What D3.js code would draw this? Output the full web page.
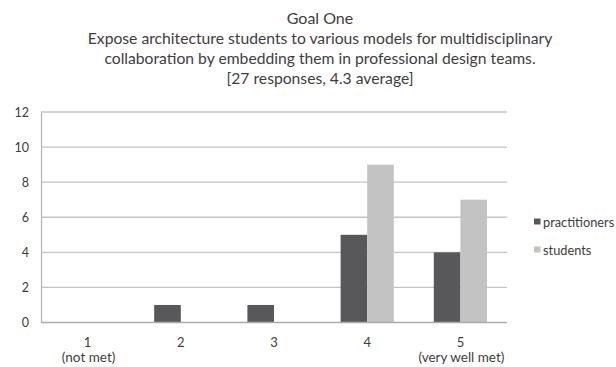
<!DOCTYPE html>
<html>
<head>
<meta charset="utf-8">
<script src="https://cdn.jsdelivr.net/npm/d3@7"></script>
<style>
  body { margin: 0; background: #fff; }
  svg { display: block; }
  text { font-family: Lato, "Open Sans", sans-serif; fill: #3d3d3d; }
</style>
</head>
<body>
<svg id="chart" width="616" height="367"></svg>
<script>
const titleLines = [
  "Goal One",
  "Expose architecture students to various models for multidisciplinary",
  "collaboration by embedding them in professional design teams.",
  "[27 responses, 4.3 average]"
];
const categories = ["1", "2", "3", "4", "5"];
const categorySubLabels = ["(not met)", "", "", "", "(very well met)"];
const seriesNames = ["practitioners", "students"];
const practitioners = [0, 1, 1, 5, 4];
const students = [0, 0, 0, 9, 7];
const yTicks = [0, 2, 4, 6, 8, 10, 12];

const seriesValues = [practitioners, students];
const colors = ["#58585a", "#c3c3c3"];

const svg = d3.select("#chart");
const plotLeft = 41, plotRight = 507, plotTop = 112, plotBottom = 322.5;

// Title
const tBase = [24, 44, 64, 84];
titleLines.forEach((t, i) => {
  svg.append("text")
    .attr("x", 320).attr("y", tBase[i])
    .attr("text-anchor", "middle")
    .style("font-size", i === 0 ? "16px" : "15.7px")
    .text(t);
});

const y = d3.scaleLinear().domain([0, 12]).range([plotBottom, plotTop]);
const x0 = d3.scaleBand().domain(categories).range([plotLeft, plotRight]).padding(0);
const x1 = d3.scaleBand().domain(seriesNames).range([20, x0.bandwidth() - 20]).padding(0);

// Gridlines
svg.append("g").selectAll("line").data(yTicks.filter(d => d > 0)).join("line")
  .attr("x1", plotLeft).attr("x2", plotRight)
  .attr("y1", d => y(d)).attr("y2", d => y(d))
  .attr("stroke", "#c4c4c4").attr("stroke-width", 1.3);

// Y axis
const yAxis = svg.append("g").attr("transform", `translate(${plotLeft},0)`)
  .call(d3.axisLeft(y).tickValues(yTicks).tickSize(0).tickPadding(12));
yAxis.select(".domain").attr("stroke", "#b8b8b8").attr("stroke-width", 1.3);
yAxis.selectAll("text").style("font-size", "12.5px").attr("fill", "#3d3d3d");

// Bars
const groups = svg.append("g").selectAll("g").data(categories).join("g")
  .attr("transform", d => `translate(${x0(d)},0)`);
groups.selectAll("rect")
  .data((d, i) => seriesNames.map((s, j) => ({ s, v: seriesValues[j][i], j })))
  .join("rect")
  .attr("x", d => x1(d.s))
  .attr("width", x1.bandwidth())
  .attr("y", d => y(d.v))
  .attr("height", d => y(0) - y(d.v))
  .attr("fill", d => colors[d.j]);

// X axis baseline
svg.append("line").attr("x1", plotLeft).attr("x2", plotRight)
  .attr("y1", y(0)).attr("y2", y(0))
  .attr("stroke", "#aaaaaa").attr("stroke-width", 1.6);

// X labels
const xl = svg.append("g");
categories.forEach((c, i) => {
  const cx = x0(c) + x0.bandwidth() / 2;
  xl.append("text").attr("x", cx).attr("y", 347).attr("text-anchor", "middle")
    .style("font-size", "13px").text(c);
  if (categorySubLabels[i]) {
    xl.append("text").attr("x", cx + 1).attr("y", 362).attr("text-anchor", "middle")
      .style("font-size", "13.5px").text(categorySubLabels[i]);
  }
});

// Legend
const legY = [222, 250];
seriesNames.forEach((s, i) => {
  svg.append("rect").attr("x", 534).attr("y", legY[i] - 3.5).attr("width", 6.5).attr("height", 6)
    .attr("fill", colors[i]);
  svg.append("text").attr("x", 543).attr("y", legY[i] + 5)
    .style("font-size", "12.8px").text(s);
});
</script>
</body>
</html>
